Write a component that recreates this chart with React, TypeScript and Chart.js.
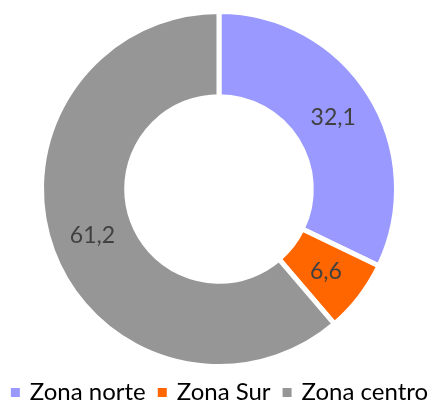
import React, { useEffect, useRef } from "react";
import { Chart, registerables } from "chart.js";

Chart.register(...registerables);

const categories = ["Zona norte", "Zona Sur", "Zona centro"];
const values = [32.1, 6.6, 61.2];
const colors = ["#9999FF", "#FF6600", "#969696"];

const FONT = "Lato, 'Open Sans', sans-serif";

const sliceLabels = {
  id: "sliceLabels",
  afterDatasetsDraw(chart: any) {
    const ctx = chart.ctx;
    const meta = chart.getDatasetMeta(0);
    ctx.save();
    ctx.font = `23px ${FONT}`;
    ctx.fillStyle = "#404040";
    ctx.textAlign = "center";
    ctx.textBaseline = "middle";
    meta.data.forEach((arc: any, i: number) => {
      const p = arc.tooltipPosition();
      const txt = values[i].toFixed(1).replace(".", ",");
      ctx.fillText(txt, p.x, p.y);
    });
    ctx.restore();
  },
};

const bottomLegend = {
  id: "bottomLegend",
  afterDraw(chart: any) {
    const ctx = chart.ctx;
    ctx.save();
    ctx.font = `24px ${FONT}`;
    const box = 9;
    const gap = 10;
    const spacing = 12;
    const widths = categories.map((c) => ctx.measureText(c).width);
    const total =
      widths.reduce((a, w) => a + box + gap + w, 0) + spacing * (categories.length - 1);
    let x = 219.5 - total / 2;
    const baseline = 400;
    ctx.textBaseline = "alphabetic";
    ctx.textAlign = "left";
    categories.forEach((c, i) => {
      ctx.fillStyle = colors[i];
      ctx.fillRect(x, 388, box, box);
      x += box + gap;
      ctx.fillStyle = "#000000";
      ctx.fillText(c, x, baseline);
      x += widths[i] + spacing;
    });
    ctx.restore();
  },
};

export default function App() {
  const ref = useRef<HTMLCanvasElement | null>(null);
  useEffect(() => {
    if (!ref.current) return;
    const chart = new Chart(ref.current, {
      type: "doughnut",
      data: {
        labels: categories,
        datasets: [
          {
            data: values,
            backgroundColor: colors,
            borderColor: "#FFFFFF",
            borderWidth: 5,
            hoverOffset: 0,
          },
        ],
      },
      options: {
        animation: false,
        responsive: false,
        cutout: "52%",
        layout: { padding: { top: 9, bottom: 32, left: 6, right: 0 } },
        plugins: {
          tooltip: { enabled: false },
          legend: { display: false },
        },
      },
      plugins: [sliceLabels, bottomLegend],
    });
    return () => chart.destroy();
  }, []);
  return (
    <div style={{ position: "absolute", left: 0, top: 0, width: 432, height: 401, background: "#fff" }}>
      <canvas ref={ref} width={432} height={401} style={{ width: 432, height: 401 }} />
    </div>
  );
}
